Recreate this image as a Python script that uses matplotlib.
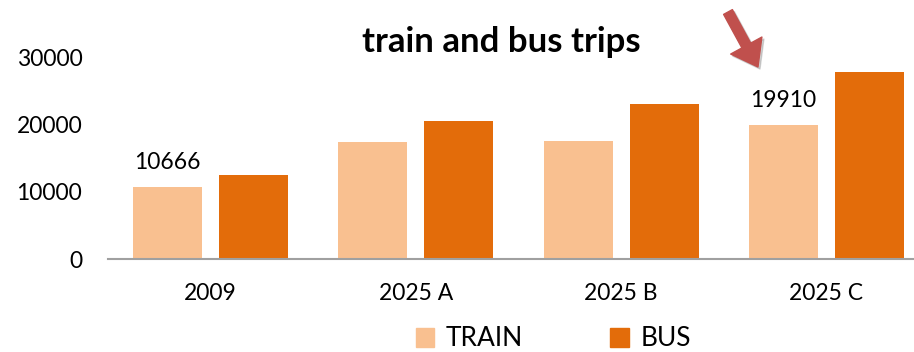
import matplotlib
matplotlib.use("Agg")
import matplotlib.pyplot as plt
from matplotlib.patches import Patch
import numpy as np

categories = ["2009", "2025 A", "2025 B", "2025 C"]
train = [10666, 17400, 17550, 19910]
bus = [12500, 20500, 23000, 27800]
labelled = {0: "10666", 3: "19910"}
yticks = [0, 10000, 20000, 30000]

plt.rcParams['font.family'] = ['Lato', 'DejaVu Sans']

W, H = 914, 352
fig = plt.figure(figsize=(W / 100, H / 100), dpi=100)
ax = fig.add_axes([108 / W, 93 / H, 821 / W, 201.7 / H])

x = np.arange(len(categories))
bw = 0.336
off = 0.2094
c_train = "#F9C090"
c_bus = "#E36C0A"
ax.bar(x - off, train, bw, color=c_train, zorder=2)
ax.bar(x + off, bus, bw, color=c_bus, zorder=2)

for i, t in labelled.items():
    ax.annotate(t, xy=(x[i] - off, train[i]), xytext=(0, 13), textcoords="offset points",
                ha="center", va="baseline", fontsize=16.5, color="#000000")

ax.set_xlim(-0.5, 3.5)
ax.set_ylim(0, 30000)
ax.set_yticks(yticks)
ax.set_yticklabels([str(v) for v in yticks])
ax.set_xticks(x)
ax.set_xticklabels(categories)
ax.tick_params(axis="both", length=0, labelsize=16.5, colors="#000000")
ax.tick_params(axis="y", pad=18.5)
ax.tick_params(axis="x", pad=17)
for s in ["top", "right", "left"]:
    ax.spines[s].set_visible(False)
ax.spines["bottom"].set_color("#A0A0A0")
ax.spines["bottom"].set_linewidth(1.5)

fig.text(501 / W, 1 - 42 / H, "train and bus trips", ha="center", va="center",
         fontsize=25, fontweight="bold")

handles = [Patch(color=c_train, label="TRAIN"), Patch(color=c_bus, label="BUS")]
fig.legend(handles=handles, loc="center", bbox_to_anchor=(553.5 / W, 1 - 339 / H), ncol=2,
           frameon=False, fontsize=19, handlelength=0.7, handleheight=0.7,
           handletextpad=0.45, columnspacing=3.3, borderpad=0)

# red arrow with soft shadow
ax.annotate("", xy=(760, H - 69), xytext=(730, H - 14), xycoords="figure pixels",
            textcoords="figure pixels",
            arrowprops=dict(arrowstyle="simple,head_length=1.1,head_width=1.6,tail_width=0.45",
                            color="#888888", alpha=0.35, mutation_scale=16, shrinkA=0, shrinkB=0),
            annotation_clip=False)
ax.annotate("", xy=(758, H - 67), xytext=(728, H - 12), xycoords="figure pixels",
            textcoords="figure pixels",
            arrowprops=dict(arrowstyle="simple,head_length=1.1,head_width=1.6,tail_width=0.45",
                            color="#C0504D", mutation_scale=16, shrinkA=0, shrinkB=0),
            annotation_clip=False)

fig.savefig("out.png", dpi=100)
